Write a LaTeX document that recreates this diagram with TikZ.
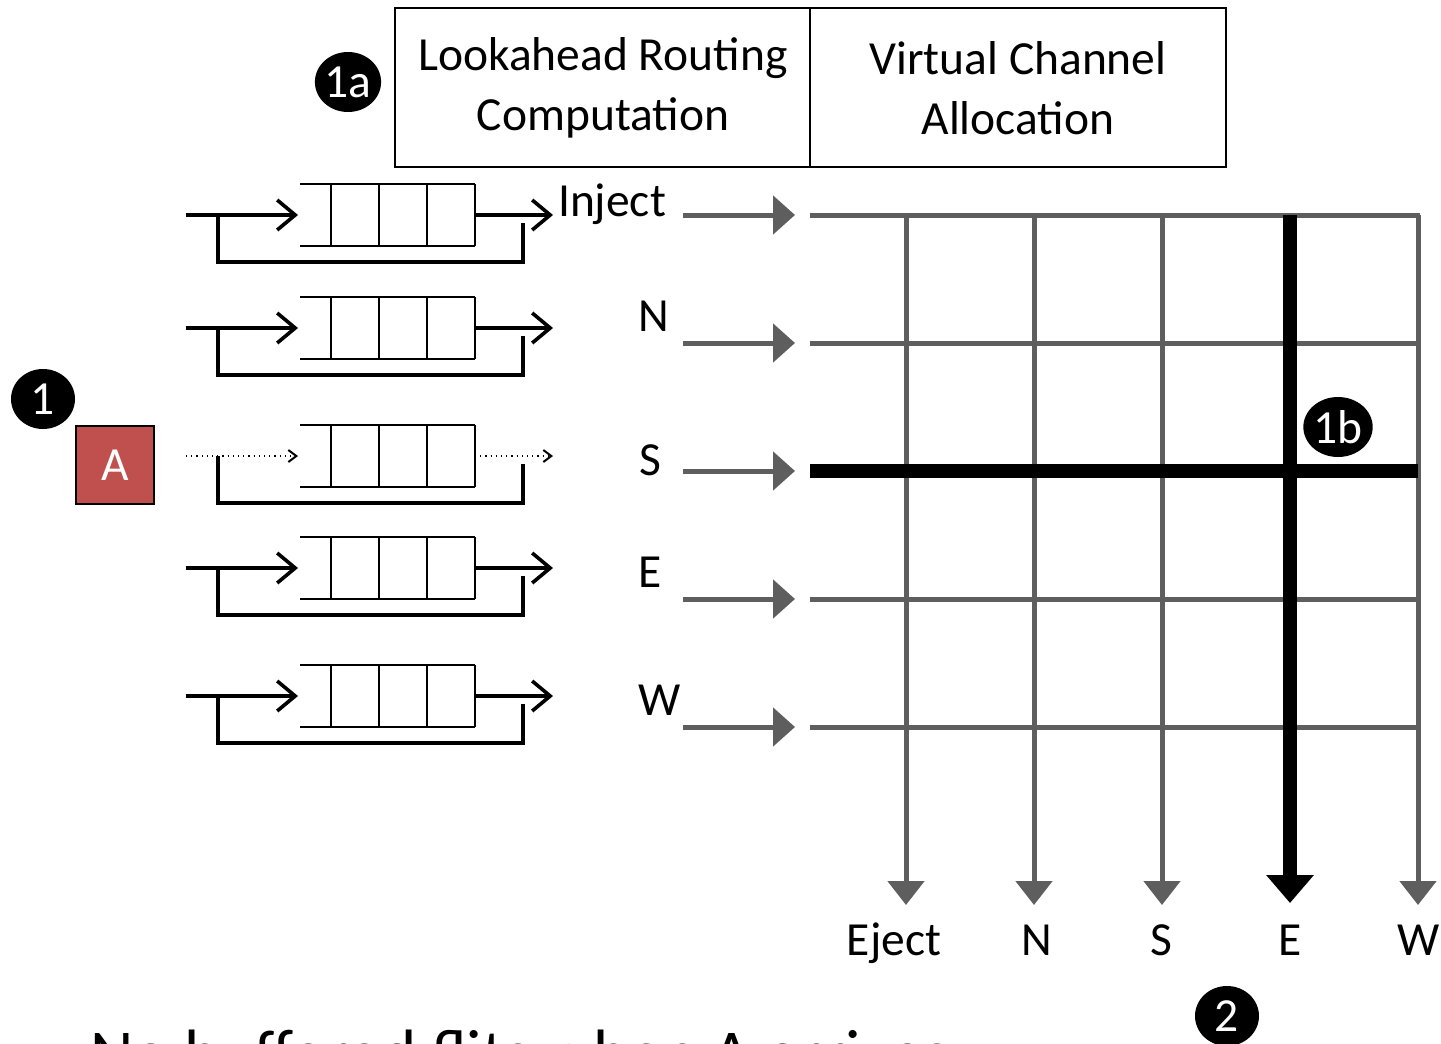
\documentclass[tikz,border=0pt]{standalone}
\usepackage{fontspec}
\setmainfont{Carlito}
\usetikzlibrary{arrows.meta,shapes.geometric}

\definecolor{xbgray}{HTML}{5E5E5E}
\definecolor{flitred}{HTML}{C0504D}

\begin{document}
\begin{tikzpicture}[x=0.5pt, y=-0.5pt, line join=miter,
    every node/.style={inner sep=0pt, font=\fontsize{23.75}{30}\selectfont},
    badge/.style={ellipse, fill=black, text=white, minimum width=32pt, minimum height=30pt},
    bufline/.style={line width=1pt},
    loopline/.style={line width=2.2pt},
    feed/.style={line width=1.8pt, -{Straight Barb[length=9pt, width=15pt]}},
    idle/.style={line width=0.6pt, dotted, -{Straight Barb[length=4pt, width=6pt, line width=1pt]}},
    inarrow/.style={xbgray, line width=2.5pt, -{Triangle[length=11pt, width=19pt]}},
    outarrow/.style={xbgray, line width=2.5pt, -{Triangle[length=12pt, width=18pt]}},
    path/.style={line width=7pt}]
  \useasboundingbox (0,0) rectangle (1441,1044);

  % stage boxes
  \draw[line width=1pt] (395,8) rectangle (1226,167);
  \draw[line width=1pt] (810,8) -- (810,167);
  \node[align=center] (lrc) at (603,88) {Lookahead Routing\\Computation};
  \node[align=center] (vca) at (1018,88) {Virtual Channel\\Allocation};

  % input buffers
  \foreach \y in {215,328,456,568,696} {
    \draw[bufline] (300,\y-31) -- (475,\y-31);
    \draw[bufline] (300,\y+31) -- (475,\y+31);
    \foreach \x in {331,379,427,475}
      \draw[bufline] (\x,\y-31) -- (\x,\y+31);
    \draw[loopline] (218,\y) -- (218,\y+47) -- (523,\y+47) -- (523,\y+8);
  }
  \foreach \y in {215,328,568,696} {
    \draw[feed] (186,\y) -- (298,\y);
    \draw[feed] (475,\y) -- (553,\y);
  }
  \draw[idle] (186,456) -- (298,456);
  \draw[idle] (475,456) -- (553,456);

  % input port labels
  \node[anchor=base] (pinj) at (612,216) {Inject};
  \node[anchor=base] (pn) at (654,331) {N};
  \node[anchor=base] (ps) at (650,475) {S};
  \node[anchor=base] (pe) at (650,587) {E};
  \node[anchor=base] (pw) at (660,715) {W};

  % crossbar inputs
  \foreach \y in {215,343,471,599,727} {
    \draw[inarrow] (683,\y) -- (795,\y);
    \draw[xbgray, line width=2.5pt] (810,\y) -- (1420,\y);
  }

  % crossbar outputs
  \foreach \x in {906,1034,1162,1418}
    \draw[outarrow] (\x,215) -- (\x,905);

  % granted path S -> E
  \draw[path] (810,471) -- (1418,471);
  \draw[path, -{Triangle[length=14pt, width=23pt]}] (1290,215) -- (1290,903);

  % output port labels
  \node[anchor=base] (oej) at (894,955) {Eject};
  \node[anchor=base] (on) at (1037,955) {N};
  \node[anchor=base] (os) at (1161,955) {S};
  \node[anchor=base] (oe) at (1290,955) {E};
  \node[anchor=base] (ow) at (1419,955) {W};

  % arriving flit
  \node[draw, line width=1pt, fill=flitred, text=white, minimum size=39pt] (flitA) at (115,465) {A};

  % steps
  \node[badge] (s1) at (43,399) {1};
  \node[badge] (s1a) at (348,82) {1a};
  \node[badge] (s1b) at (1338,427) {1b};
  \node[badge] (s2) at (1227,1016) {2};

  \node[anchor=base west, font=\fontsize{33.5}{40}\selectfont] (note) at (90,1076) {No buffered flits when A arrives};
\end{tikzpicture}
\end{document}
